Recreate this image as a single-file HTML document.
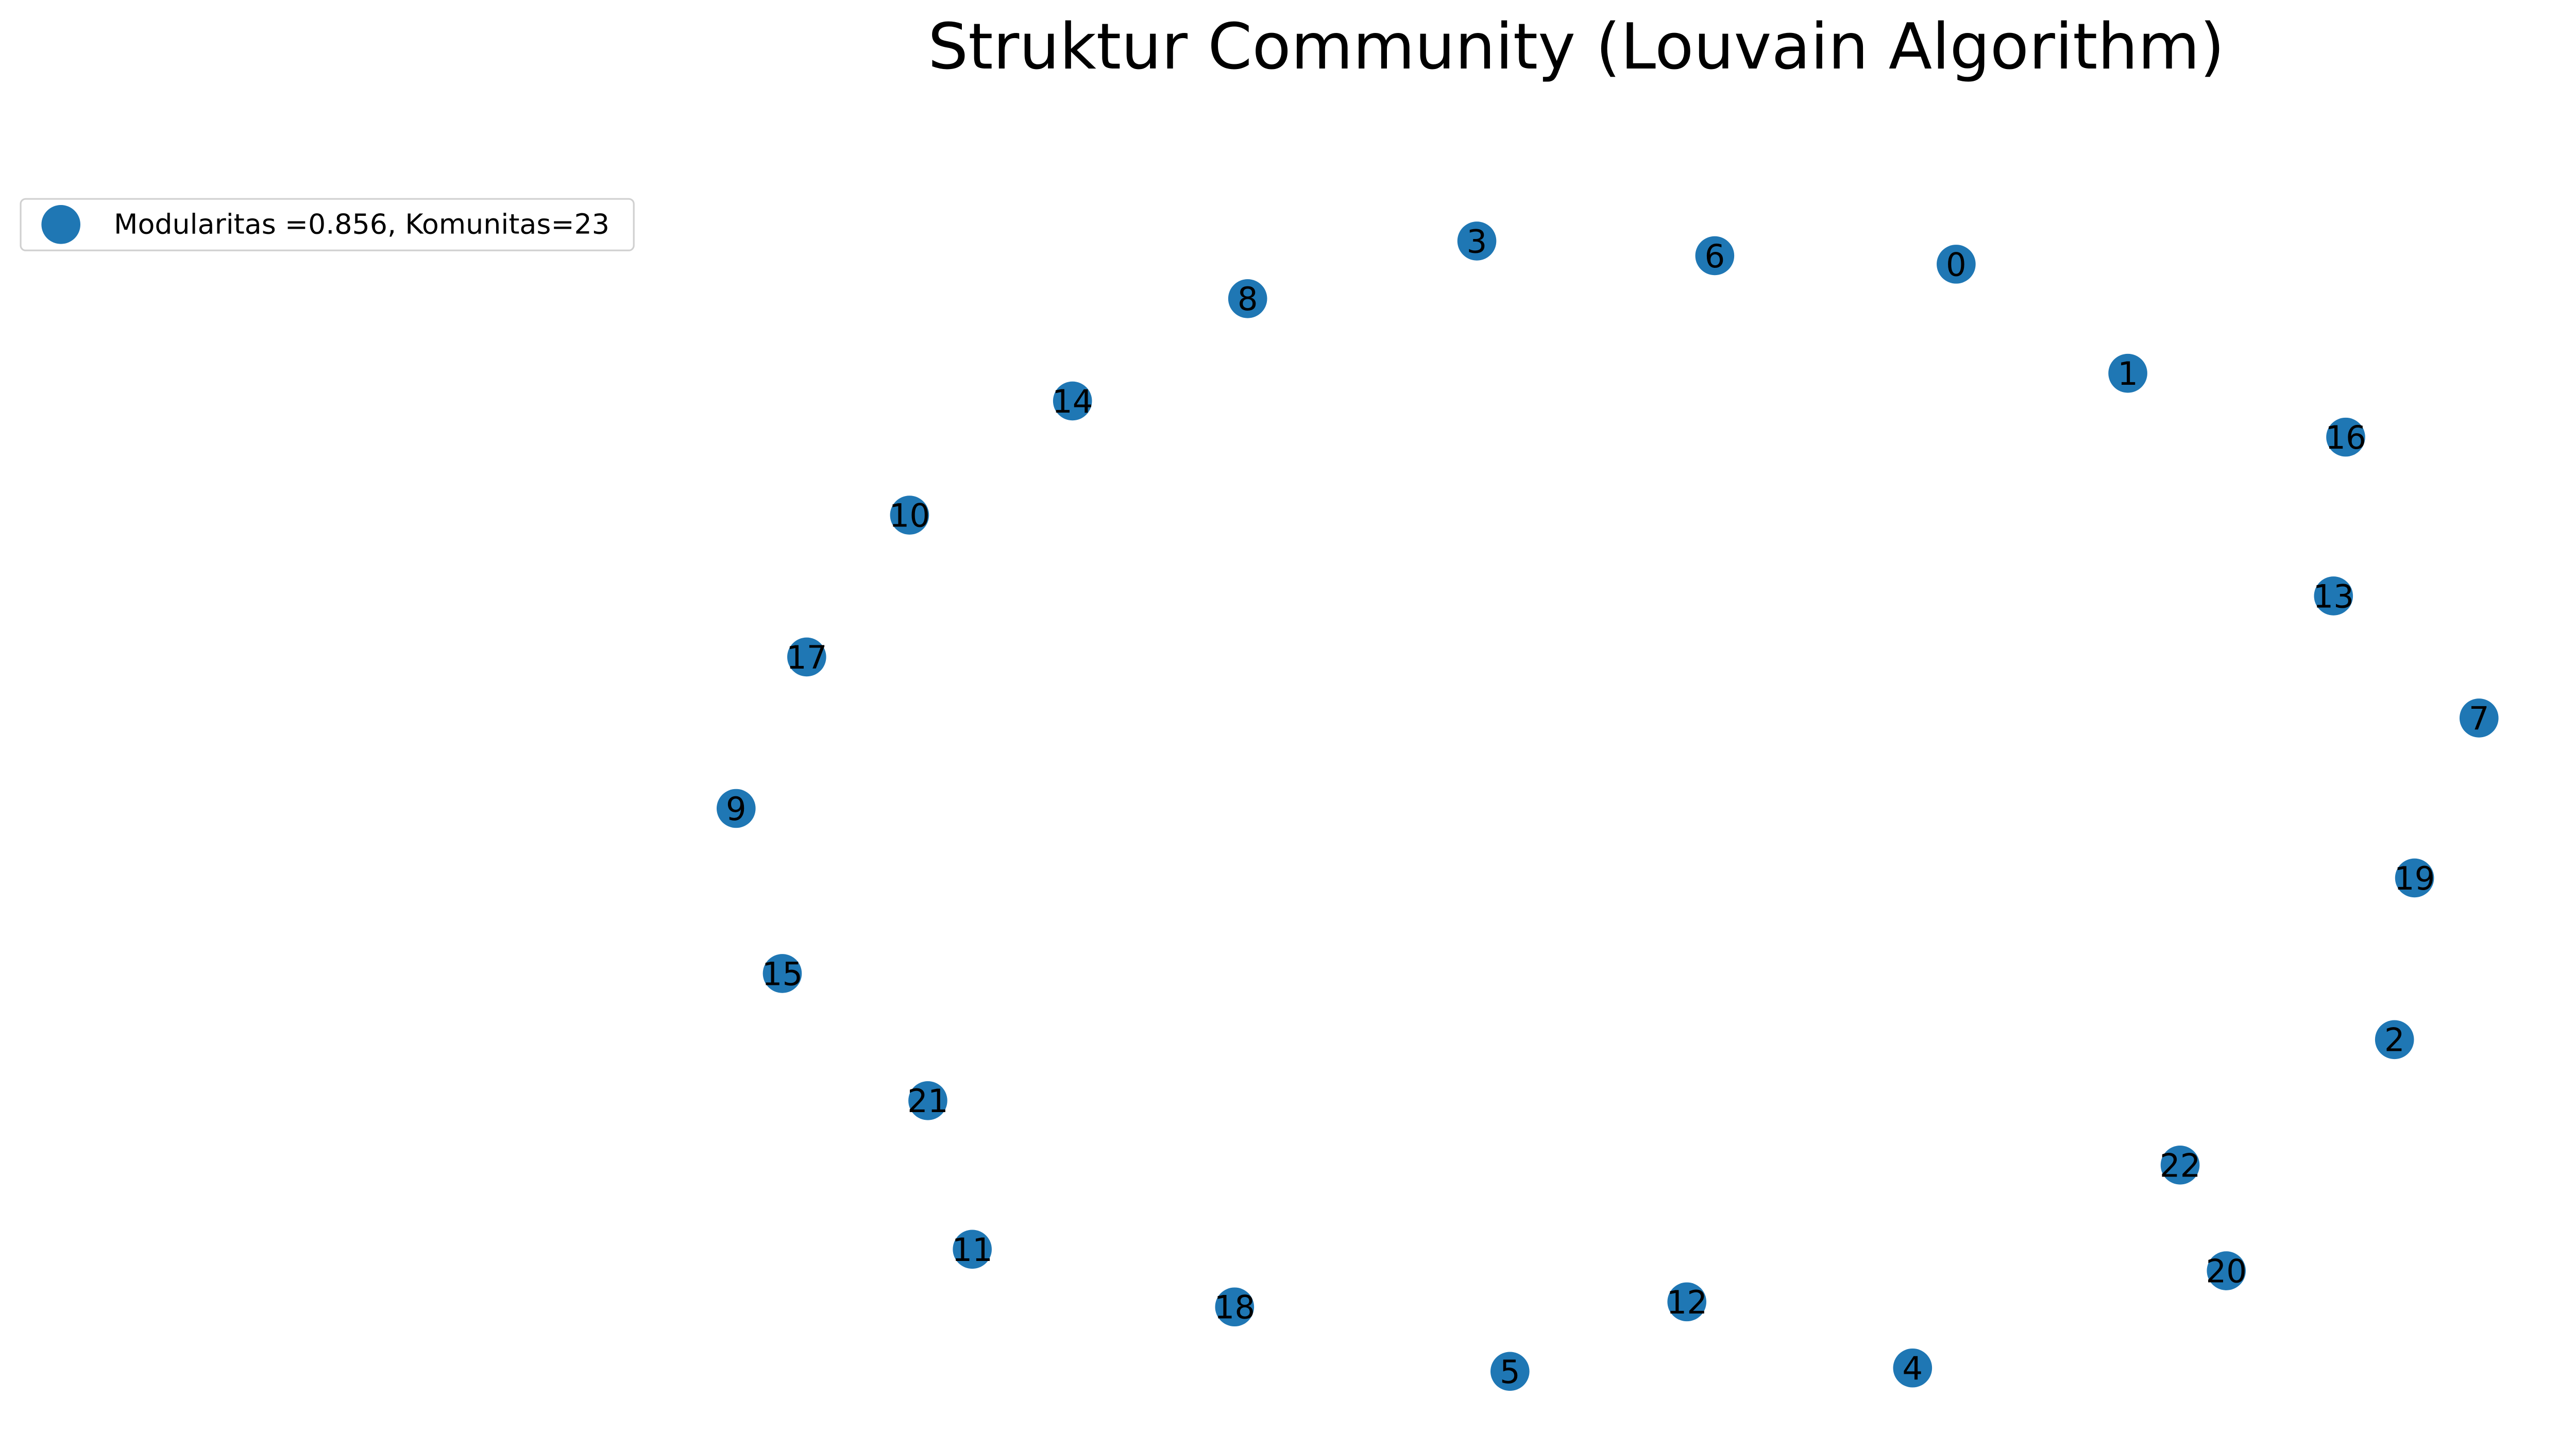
<!DOCTYPE html>
<html><head><meta charset="utf-8"><style>
html,body{margin:0;padding:0;background:#fff}
svg{display:block}
text{font-family:"DejaVu Sans","Liberation Sans",sans-serif}
</style></head><body>
<svg width="5020" height="2815" viewBox="0 0 1567 878.6">
<text x="955" y="41.5" font-size="38.5" text-anchor="middle">Struktur Community (Louvain Algorithm)</text>
<g>
<rect x="12.5" y="120.5" width="371.5" height="31.2" rx="3" fill="#fff" stroke="#d0d0d0" stroke-width="1"/>
<circle cx="36.9" cy="136" r="11.8" fill="#1f77b4"/>
<text x="69" y="141.5" font-size="16.8">Modularitas =0.856, Komunitas=23</text>
</g>
<g id="nodes"></g>
</svg>
<script>
const nodeIds=[0,1,2,3,4,5,6,7,8,9,10,11,12,13,14,15,16,17,18,19,20,21,22];
const nodeX=[0.40,0.597,0.903,-0.150,0.350,-0.112,0.123,1.0,-0.413,-1.0,-0.801,-0.729,0.091,0.833,-0.614,-0.947,0.847,-0.919,-0.428,0.926,0.710,-0.780,0.657];
const nodeY=[0.959,0.766,-0.413,1.0,-0.994,-1.0,0.974,0.156,0.898,-0.004,0.515,-0.784,-0.877,0.372,0.717,-0.296,0.653,0.264,-0.886,-0.127,-0.822,-0.521,-0.635];
const sx=v=>974+v*528;
const sy=v=>488.5-v*342.5;
const g=document.getElementById('nodes');
const ns='http://www.w3.org/2000/svg';
nodeIds.forEach((id,i)=>{
 const c=document.createElementNS(ns,'circle');
 c.setAttribute('cx',sx(nodeX[i]));c.setAttribute('cy',sy(nodeY[i]));c.setAttribute('r',11.8);c.setAttribute('fill','#1f77b4');
 
 
 g.appendChild(c);
 const t=document.createElementNS(ns,'text');
 t.setAttribute('x',sx(nodeX[i]));t.setAttribute('y',sy(nodeY[i])+7);t.setAttribute('font-size','19.5');t.setAttribute('text-anchor','middle');
 t.textContent=id;
 
 
 g.appendChild(t);
});
</script>
</body></html>
